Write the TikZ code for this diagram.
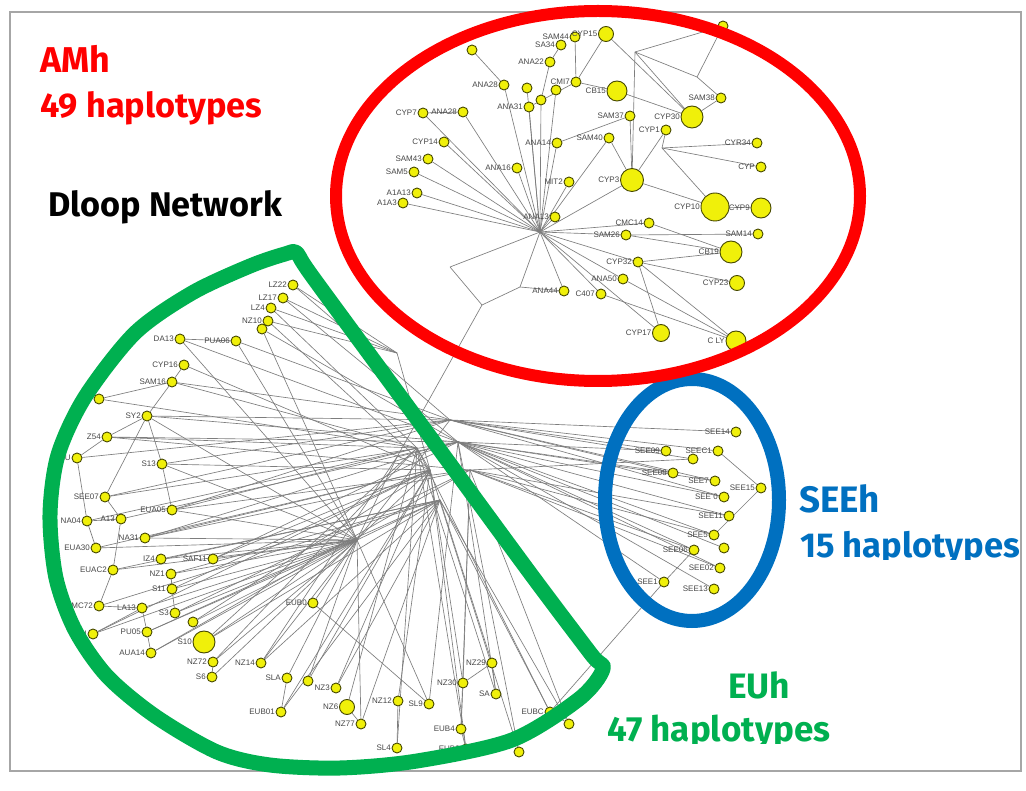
\documentclass[tikz,border=0pt]{standalone}
\usepackage{fontspec}
\setmainfont{Liberation Sans}
\newfontfamily\headfont{Fira Sans}
\usetikzlibrary{backgrounds}
\definecolor{hapfill}{RGB}{240,240,10}
\definecolor{hapdraw}{RGB}{70,72,0}
\definecolor{edgegray}{RGB}{125,125,125}
\definecolor{amred}{RGB}{255,0,0}
\definecolor{seeblue}{RGB}{0,112,192}
\definecolor{eugreen}{RGB}{0,176,80}
\tikzset{
  hap/.style={circle,fill=hapfill,draw=hapdraw,line width=0.9pt,inner sep=0pt},
  lab/.style={font=\fontsize{8}{8}\selectfont,text=black!72,inner sep=0.6pt},
  edge/.style={draw=edgegray,line width=0.65pt},
  ring/.style={line width=#1},
  headtext/.style={anchor=base west,inner sep=0pt}
}
% haplotype node: name, x, y, diameter, label
\newcommand\hap[5]{\node[hap,minimum size=#4pt,label={[lab]left:#5}] (#1) at (#2,#3) {};}
\begin{document}
\begin{tikzpicture}[x=1pt,y=-1pt]
\useasboundingbox (0,0) rectangle (1026,791);

% ---------------- AM haplotypes ----------------
\hap{a1}{472}{50}{10}{}
\hap{a2}{561}{45}{10}{SA34}
\hap{a3}{575}{37}{10}{SAM44}
\hap{a4}{606}{34}{15}{CYP15}
\hap{a5}{550}{62}{10}{ANA22}
\hap{a6}{504}{85}{10}{ANA28}
\hap{a7}{527}{88}{10}{}
\hap{a8}{556}{90}{10}{}
\hap{a9}{576}{82}{10}{CMI7}
\hap{a10}{617}{91}{20}{CB15}
\hap{a11}{541}{100}{10}{}
\hap{a12}{529}{107}{10}{ANA31}
\hap{a13}{423}{113}{10}{CYP7}
\hap{a14}{463}{112}{10}{ANA28}
\hap{a15}{630}{116}{10}{SAM37}
\hap{a16}{692}{117}{22}{CYP30}
\hap{a17}{721}{98}{10}{SAM38}
\hap{a18}{666}{130}{10}{CYP1}
\hap{a19}{444}{142}{10}{CYP14}
\hap{a20}{557}{143}{10}{ANA14}
\hap{a21}{609}{138}{10}{SAM40}
\hap{a22}{428}{159}{10}{SAM43}
\hap{a23}{414}{172}{10}{SAM5}
\hap{a24}{517}{168}{10}{ANA16}
\hap{a25}{569}{182}{10}{MIT2}
\hap{a26}{632}{180}{23}{CYP3}
\hap{a27}{417}{193}{10}{A1A13}
\hap{a28}{403}{203}{10}{A1A3}
\hap{a29}{555}{217}{10}{ANA13}
\hap{a30}{626}{235}{10}{SAM26}
\hap{a31}{649}{223}{10}{CMC14}
\hap{a32}{757}{143}{10}{CYR34}
\hap{a33}{761}{167}{10}{CYP}
\hap{a34}{715}{207}{28}{CYP10}
\hap{a35}{761}{208}{20}{CYP9}
\hap{a36}{758}{234}{10}{SAM14}
\hap{a37}{731}{252}{22}{CB19}
\hap{a38}{638}{262}{10}{CYP32}
\hap{a39}{623}{279}{10}{ANA50}
\hap{a40}{737}{283}{15}{CYP23}
\hap{a41}{601}{294}{10}{C407}
\hap{a42}{564}{291}{10}{ANA44}
\hap{a43}{661}{333}{17}{CYP17}
\hap{a44}{736}{341}{20}{C LY}
\hap{a45}{723}{26}{10}{}

% ---------------- EU haplotypes ----------------
\hap{e1}{293}{285}{10}{LZ22}
\hap{e2}{283}{298}{10}{LZ17}
\hap{e3}{271}{308}{10}{LZ4}
\hap{e4}{268}{321}{10}{NZ10}
\hap{e5}{262}{329}{10}{}
\hap{e6}{236}{341}{10}{PUA06}
\hap{e7}{180}{339}{10}{DA13}
\hap{e8}{184}{365}{10}{CYP16}
\hap{e9}{172}{382}{10}{SAM16}
\hap{e10}{99}{399}{10}{CY}
\hap{e11}{147}{416}{10}{SY2}
\hap{e12}{107}{437}{10}{Z54}
\hap{e13}{77}{458}{10}{EU}
\hap{e14}{162}{464}{10}{S13}
\hap{e15}{105}{497}{10}{SEE07}
\hap{e16}{172}{510}{10}{EUA05}
\hap{e17}{87}{521}{10}{NA04}
\hap{e18}{121}{519}{10}{A13}
\hap{e19}{145}{538}{10}{NA31}
\hap{e20}{96}{548}{10}{EUA30}
\hap{e21}{161}{559}{10}{IZ4}
\hap{e22}{213}{559}{10}{SAF11}
\hap{e23}{113}{570}{10}{EUAC2}
\hap{e24}{171}{574}{10}{NZ1}
\hap{e25}{172}{589}{10}{S11}
\hap{e26}{99}{606}{10}{AMC72}
\hap{e27}{142}{608}{10}{LA13}
\hap{e28}{175}{613}{10}{S3}
\hap{e29}{193}{622}{10}{}
\hap{e30}{93}{634}{10}{EU}
\hap{e31}{147}{632}{10}{PU05}
\hap{e32}{204}{642}{22}{S10}
\hap{e33}{151}{653}{10}{AUA14}
\hap{e34}{213}{662}{10}{NZ72}
\hap{e35}{212}{677}{10}{S6}
\hap{e36}{261}{663}{10}{NZ14}
\hap{e37}{287}{678}{10}{SLA}
\hap{e38}{281}{712}{10}{EUB01}
\hap{e39}{313}{603}{10}{EUB0}
\hap{e40}{308}{681}{10}{}
\hap{e41}{336}{688}{10}{NZ3}
\hap{e42}{347}{707}{15}{NZ6}
\hap{e43}{361}{724}{10}{NZ77}
\hap{e44}{398}{701}{10}{NZ12}
\hap{e45}{429}{704}{10}{SL9}
\hap{e46}{397}{748}{10}{SL4}
\hap{e47}{463}{683}{10}{NZ30}
\hap{e48}{492}{663}{10}{NZ29}
\hap{e49}{496}{694}{10}{SA}
\hap{e50}{461}{729}{10}{EUB4}
\hap{e51}{466}{749}{10}{EUB9}
\hap{e52}{519}{752}{10}{}
\hap{e53}{550}{712}{10}{EUBC}
\hap{e54}{569}{724}{10}{}

% ---------------- SEE haplotypes ----------------
\hap{s1}{736}{432}{10}{SEE14}
\hap{s2}{666}{451}{10}{SEE09}
\hap{s3}{718}{451}{10}{SEEC1}
\hap{s4}{693}{459}{10}{}
\hap{s5}{673}{473}{10}{SEE08}
\hap{s6}{715}{481}{10}{SEE7}
\hap{s7}{761}{488}{10}{SEE15}
\hap{s8}{724}{497}{10}{SEE 0}
\hap{s9}{729}{516}{10}{SEE11}
\hap{s10}{714}{535}{10}{SEE5}
\hap{s11}{694}{550}{10}{SEE06}
\hap{s12}{724}{548}{10}{}
\hap{s13}{720}{568}{10}{SEE02}
\hap{s14}{664}{582}{10}{SEE1}
\hap{s15}{714}{589}{10}{SEE13}

% median vectors (branch points)
\coordinate (hA) at (540,232);
\coordinate (hA1) at (450,267);
\coordinate (hA2) at (482,305);
\coordinate (hA3) at (520,287);
\coordinate (hA4) at (512,243);
\coordinate (hB) at (635,52);
\coordinate (hB2) at (697,77);
\coordinate (hC) at (662,148);
\coordinate (hT) at (397,457);
\coordinate (hE) at (357,540);
\coordinate (hE2) at (417,448);
\coordinate (hE3) at (430,470);
\coordinate (hS1) at (450,420);
\coordinate (hS2) at (458,442);
\coordinate (hF) at (397,353);
\coordinate (hK) at (440,500);
\coordinate (hM) at (470,470);

\begin{scope}[on background layer]
\fill[white] (0,0) rectangle (1026,791);
\draw[black!35,line width=1.8pt] (10,12) rectangle (1021,771);
\foreach \u/\v in {a1/a6,a3/a9,a4/a9,a4/a16,a5/a11,a6/hA,a7/hA,a8/hA,a9/a12,a10/a9,a10/a16,
  a11/hA,a12/hA,a13/hA,a14/hA,a15/a26,a15/a20,a16/hB,hB/a45,hB/hB2,hB2/a45,hB2/a17,hB/a26,
  a17/a16,a18/a26,a18/hC,hC/a32,hC/a33,hC/a34,a19/hA,a20/hA,a21/a26,a21/hA,a22/hA,a23/hA,
  a24/hA,a25/hA,a26/hA,a26/a34,a27/hA,a28/hA,a29/hA,a30/hA,a30/a36,a30/a37,a31/hA,a31/a37,
  a34/a35,a38/hA,a38/a37,a38/a40,a38/a44,a38/a43,a39/hA,a39/a44,a41/hA,a41/a44,a42/hA,a42/hA3,
  a43/hA,hA/hA4,hA4/hA1,hA1/hA2,hA2/hA3,hA3/hA,hA2/hT,a2/a5,a13/a14}
  \draw[edge] (\u) -- (\v);
\foreach \u/\v in {e1/hF,e2/hF,e3/hF,e4/hF,e5/hE,e6/hE,e2/hS2,e4/hE3,e1/hS1,e7/e6,e7/hE,
  e8/e9,e9/e11,e9/hS1,e10/e9,e11/hE,e11/hS1,e11/hS2,e11/e14,e11/e15,e12/e11,e12/hE2,e12/e13,
  e13/e17,e14/hE,e14/hE3,e14/e16,e15/hS2,e15/e18,e16/hE,e16/hE2,e17/e18,e18/e23,e19/hE,
  e19/hE3,e20/e17,e20/hE,e21/hE,e22/hE,e22/hE3,e23/e26,e23/hE,e24/hE,e25/hE,e25/e24,e26/e27,
  e27/hE,e27/e30,e28/hE,e29/hE,e28/e25,e30/hE,e31/hE,e31/e27,e32/hE,e32/hE2,e33/hE,e33/e31,
  e34/hE,e35/e34,e35/hE3,e36/hE,e36/hT,e37/hE,e38/e37,e38/hE3,e39/hE,e39/e45,e40/hE,e41/hE3,
  e42/hE2,e43/hE,e43/e42,e44/hE3,e44/e46,e45/hE,e45/hS2,e47/e50,e47/hE3,e47/e48,e48/hK,
  e49/hE2,e49/e48,e50/e51,e51/hE3,e52/hS2,e53/hE2,e54/hK,e53/e54,e12/hS2,e16/hS1,e19/hS2,
  e22/hS2,e14/hS1,hT/hE,hS1/hE,hS2/hT,hE2/hE3,hF/hE3,hK/hE,e10/hE2,e6/hS1,e8/hE3,e21/hK,e24/hK,
  e13/hS1,e15/hS1,e17/hE2,e18/hS2,e20/hE3,e23/hK,e26/hK,e30/hE3,e9/hE2,e7/hS2,e5/hS2,e3/hE2,
  e46/hE2,e43/hK,e41/hK,e40/hE3,e38/hK,e12/hM,e16/hM,e19/hM,e33/hM,e28/hM,e25/hE3,e31/hK,
  e50/hM,e51/hE2,e47/hM,e49/hS2,e52/hE3,e53/hK,e54/hM,e36/hK,e34/hE2,e29/hE3,e32/hK}
  \draw[edge] (\u) -- (\v);
\foreach \u/\v in {s1/hS1,s2/hS1,s3/hS1,s4/hS1,s5/hS1,s6/hS1,s8/hS1,s2/hS2,s5/hS2,s6/hS2,
  s8/hS2,s9/hS2,s10/hS2,s11/hS2,s12/hS2,s13/hS2,s15/hS2,s3/s7,s7/s10,s11/s14,s14/e53,s14/hS2,
  s9/hM,s10/hM,s11/hM,s13/hM,s4/hM}
  \draw[edge] (\u) -- (\v);
\end{scope}

% ---------------- group outlines ----------------
\draw[seeblue,ring=14pt] (692,500) ellipse [x radius=87, y radius=121];
\draw[amred,ring=12pt] (598,196) ellipse [x radius=262, y radius=185];
\draw[eugreen,ring=15pt,line join=round] plot[smooth cycle,tension=0.5] coordinates {
  (297,253) (312,276) (420,423) (530,573) (591,654) (603,669) (579,699) (512,740)
  (417,761) (340,768) (270,765) (217,752) (155,716) (107,676) (75,630)
  (56,578) (50,515) (58,455) (85,397) (135,333) (192,293) (250,266) (285,254)};

% ---------------- titles ----------------
\node[headtext,text=amred] (amh) at (40,73) {\resizebox{70pt}{!}{\headfont\bfseries AMh}};
\node[headtext,text=amred] (amn) at (40,118) {\resizebox{222pt}{!}{\headfont\bfseries 49 haplotypes}};
\node[headtext,text=black] (title) at (48,217) {\resizebox{234pt}{!}{\headfont\bfseries Dloop Network}};
\node[headtext,text=seeblue] (seeh) at (799,512) {\resizebox{81pt}{!}{\headfont\bfseries SEEh}};
\begin{scope}
  \clip (790,520) rectangle (1026,559);
  \node[headtext,text=seeblue] (seen) at (800,557) {\resizebox{220pt}{!}{\headfont\bfseries 15 haplotypes}};
\end{scope}
\node[headtext,text=eugreen] (euh) at (728,698) {\resizebox{62pt}{!}{\headfont\bfseries EUh}};
\begin{scope}
  \clip (600,705) rectangle (850,743);
  \node[headtext,text=eugreen] (eun) at (607,741) {\resizebox{223pt}{!}{\headfont\bfseries 47 haplotypes}};
\end{scope}
\end{tikzpicture}
\end{document}
